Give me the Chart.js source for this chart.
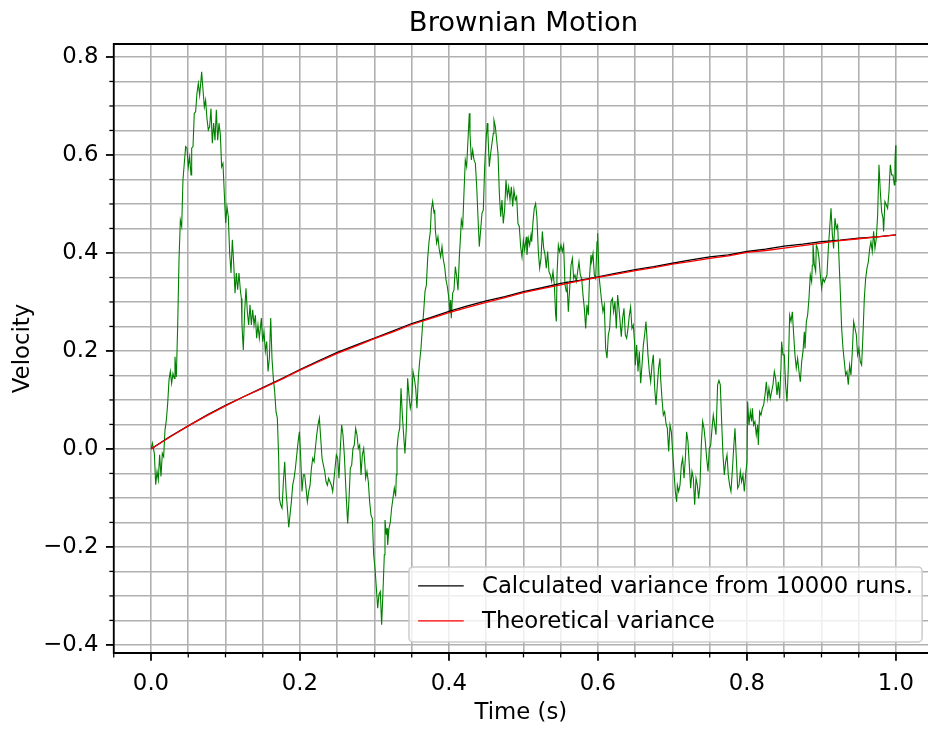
<!DOCTYPE html>
<html>
<head>
<meta charset="utf-8">
<title>Brownian Motion</title>
<script src="https://cdn.jsdelivr.net/npm/chart.js@4.4.1/dist/chart.umd.min.js"></script>
<style>
  html, body { margin: 0; padding: 0; background: #fff; overflow: hidden; }
  #wrap { width: 928px; height: 729px; }
</style>
</head>
<body>
<div id="wrap"><canvas id="chart" width="928" height="729"></canvas></div>
<script>
const FONT = "'DejaVu Sans', 'Liberation Sans', sans-serif";
const TICK_SIZE = 22.8;
const TITLE_SIZE = 27.4;

// One simulated velocity path (time in s)
const pathTime = [
  0.0000,0.0009,0.0018,0.0045,0.0063,0.0081,0.0098,0.0116,0.0134,0.0152,
  0.0170,0.0188,0.0206,0.0224,0.0242,0.0259,0.0277,0.0295,0.0313,0.0322,
  0.0340,0.0358,0.0376,0.0394,0.0412,0.0429,0.0447,0.0465,0.0483,0.0501,
  0.0519,0.0537,0.0546,0.0564,0.0581,0.0599,0.0617,0.0635,0.0653,0.0671,
  0.0680,0.0698,0.0716,0.0733,0.0751,0.0769,0.0787,0.0805,0.0823,0.0841,
  0.0859,0.0877,0.0895,0.0913,0.0931,0.0948,0.0966,0.0984,0.1002,0.1020,
  0.1038,0.1056,0.1074,0.1092,0.1110,0.1128,0.1145,0.1163,0.1181,0.1199,
  0.1213,0.1221,0.1239,0.1257,0.1275,0.1293,0.1311,0.1329,0.1347,0.1365,
  0.1383,0.1401,0.1418,0.1436,0.1454,0.1472,0.1481,0.1499,0.1517,0.1535,
  0.1553,0.1571,0.1589,0.1607,0.1624,0.1642,0.1660,0.1678,0.1696,0.1714,
  0.1723,0.1741,0.1759,0.1777,0.1795,0.1813,0.1831,0.1849,0.1866,0.1884,
  0.1902,0.1920,0.1938,0.1956,0.1974,0.1992,0.2010,0.2027,0.2045,0.2063,
  0.2081,0.2099,0.2117,0.2135,0.2153,0.2171,0.2189,0.2206,0.2224,0.2242,
  0.2260,0.2278,0.2296,0.2314,0.2332,0.2350,0.2368,0.2385,0.2403,0.2421,
  0.2439,0.2457,
  0.2488,0.2506,0.2523,0.2541,0.2559,0.2577,0.2595,0.2622,0.2640,0.2658,
  0.2676,0.2694,0.2711,0.2729,0.2747,0.2765,0.2783,0.2801,0.2819,0.2837,
  0.2855,0.2872,0.2881,0.2899,0.2917,0.2935,0.2953,0.2971,0.2989,0.3007,
  0.3025,0.3043,0.3060,0.3078,0.3096,0.3114,0.3132,0.3141,0.3159,0.3168,
  0.3177,0.3195,0.3213,0.3230,0.3248,0.3266,0.3284,0.3293,0.3302,0.3320,
  0.3338,0.3356,0.3374,0.3391,0.3409,0.3427,0.3445,0.3463,0.3481,0.3499,
  0.3517,0.3535,0.3553,0.3570,0.3588,0.3606,0.3624,0.3642,0.3660,0.3678,
  0.3696,0.3714,0.3732,0.3749,
  0.3763,0.3781,0.3799,0.3808,0.3817,0.3834,0.3852,0.3870,0.3888,0.3906,
  0.3924,0.3942,0.3960,0.3978,0.3996,0.4013,0.4022,0.4031,0.4049,0.4067,
  0.4085,0.4103,0.4121,0.4139,0.4157,0.4166,0.4184,0.4201,0.4219,0.4237,
  0.4255,0.4273,0.4282,0.4300,0.4318,0.4336,0.4354,0.4372,0.4389,0.4407,
  0.4425,0.4443,0.4461,0.4479,0.4497,0.4515,0.4523,0.4541,0.4559,0.4577,
  0.4595,0.4604,0.4622,0.4640,0.4658,0.4676,0.4694,0.4711,0.4729,0.4747,
  0.4765,0.4783,0.4801,0.4819,0.4837,0.4855,0.4872,0.4890,0.4908,0.4926,
  0.4944,0.4962,0.4980,0.4998,0.5016,
  0.5038,0.5047,0.5065,0.5083,0.5101,0.5110,0.5128,0.5145,0.5163,0.5181,
  0.5199,0.5217,0.5235,0.5253,0.5271,0.5289,0.5306,0.5324,0.5342,0.5360,
  0.5378,0.5396,0.5414,0.5432,0.5441,0.5450,0.5468,0.5485,0.5503,0.5521,
  0.5539,0.5557,0.5575,0.5584,0.5602,0.5620,0.5638,0.5656,0.5674,0.5691,
  0.5709,0.5727,0.5745,0.5763,0.5781,0.5799,0.5817,0.5835,0.5852,0.5870,
  0.5888,0.5906,0.5915,0.5933,0.5951,0.5969,0.5987,0.5996,0.6013,0.6031,
  0.6049,0.6067,0.6085,0.6103,0.6121,0.6139,0.6157,0.6175,0.6193,0.6210,
  0.6228,0.6246,0.6264,0.6282,
  0.6313,0.6331,0.6349,0.6367,0.6385,0.6403,0.6421,0.6438,0.6456,0.6474,
  0.6492,0.6501,0.6519,0.6537,0.6555,0.6573,0.6591,0.6609,0.6626,0.6644,
  0.6653,0.6671,0.6689,0.6707,0.6725,0.6743,0.6761,0.6779,0.6797,0.6814,
  0.6832,0.6841,0.6859,0.6877,0.6895,0.6913,0.6931,0.6949,0.6967,0.6985,
  0.7002,0.7020,0.7038,0.7056,0.7065,0.7083,0.7101,0.7119,0.7137,0.7155,
  0.7173,0.7190,0.7208,0.7226,0.7244,0.7262,0.7280,0.7298,0.7316,0.7334,
  0.7351,0.7369,0.7387,0.7405,0.7423,0.7441,0.7459,0.7477,0.7495,0.7513,
  0.7531,0.7548,0.7566,0.7584,
  0.7606,0.7624,0.7642,0.7660,0.7678,0.7696,0.7714,0.7732,0.7749,0.7767,
  0.7785,0.7803,0.7821,0.7839,0.7857,0.7875,0.7893,0.7911,0.7928,0.7946,
  0.7964,0.7982,0.8000,0.8009,0.8027,0.8045,0.8063,0.8072,0.8089,0.8107,
  0.8125,0.8143,0.8152,0.8170,0.8188,0.8206,0.8224,0.8242,0.8260,0.8278,
  0.8295,0.8313,0.8331,0.8349,0.8367,0.8385,0.8403,0.8421,0.8439,0.8456,
  0.8465,0.8483,0.8501,0.8519,0.8537,0.8555,0.8573,0.8591,0.8609,0.8627,
  0.8644,0.8662,0.8680,0.8698,0.8716,0.8734,0.8752,0.8770,0.8779,0.8797,
  0.8814,0.8832,0.8850,0.8868,0.8877,0.8886,
  0.8904,0.8922,0.8931,0.8949,0.8967,0.8985,0.9002,0.9020,0.9038,0.9056,
  0.9074,0.9092,0.9110,0.9128,0.9146,0.9163,0.9181,0.9199,0.9217,0.9235,
  0.9253,0.9271,0.9289,0.9307,0.9324,0.9342,0.9360,0.9378,0.9396,0.9414,
  0.9432,0.9450,0.9468,0.9485,0.9503,0.9521,0.9539,0.9557,0.9575,0.9593,
  0.9611,0.9629,0.9647,0.9664,0.9682,0.9700,0.9718,0.9736,0.9754,0.9772,
  0.9790,0.9808,0.9826,0.9834,0.9852,0.9870,0.9888,0.9906,0.9924,0.9942,
  0.9960,0.9978,0.9987,0.9996,1.0000
];

const pathVelocity = [
  0.000,0.005,0.012,-0.009,-0.073,-0.046,-0.063,-0.012,-0.056,-0.009,
  -0.016,0.039,0.059,0.093,0.141,0.158,0.134,0.154,0.144,0.188,
  0.147,0.250,0.386,0.467,0.454,0.549,0.583,0.617,0.614,0.576,
  0.596,0.559,0.614,0.617,0.685,0.688,0.726,0.746,0.722,0.753,
  0.770,0.733,0.698,0.712,0.675,0.651,0.658,0.695,0.624,0.665,
  0.630,0.692,0.630,0.665,0.641,0.576,0.583,0.522,0.461,0.494,
  0.474,0.399,0.359,0.427,0.379,0.318,0.359,0.325,0.359,0.325,
  0.307,0.253,0.202,0.280,0.328,0.280,0.253,0.294,0.253,0.284,
  0.253,0.273,0.226,0.253,0.226,0.253,0.267,0.219,0.239,0.199,
  0.219,0.158,0.185,0.267,0.185,0.144,0.117,0.076,0.063,-0.019,
  -0.101,-0.114,-0.121,-0.067,-0.026,-0.087,-0.121,-0.160,-0.135,-0.108,
  -0.074,-0.060,-0.040,-0.013,0.014,0.035,-0.019,-0.087,-0.053,-0.053,
  -0.080,-0.108,-0.087,-0.074,-0.040,-0.019,-0.026,0.001,0.028,0.049,
  0.063,0.022,-0.019,-0.033,-0.046,-0.067,-0.074,-0.060,-0.067,-0.074,
  -0.087,-0.060,
  -0.012,-0.019,-0.060,0.001,0.049,0.029,-0.012,-0.101,-0.152,-0.101,
  -0.039,-0.033,0.001,0.008,0.042,0.029,0.001,0.008,-0.053,-0.012,
  0.001,-0.033,-0.060,-0.046,-0.067,-0.108,-0.135,-0.142,-0.216,-0.244,
  -0.284,-0.325,-0.297,-0.291,-0.359,-0.291,-0.216,-0.145,-0.175,-0.162,
  -0.196,-0.162,-0.149,-0.121,-0.101,-0.080,-0.097,-0.053,0.001,0.029,
  0.042,0.124,0.069,0.029,-0.009,0.042,0.144,0.110,0.083,0.097,
  0.158,0.144,0.124,0.083,0.144,0.178,0.205,0.246,0.280,0.321,
  0.334,0.389,0.423,0.443,
  0.488,0.505,0.481,0.488,0.447,0.420,0.433,0.406,0.392,0.413,
  0.386,0.372,0.345,0.331,0.311,0.277,0.304,0.267,0.318,0.324,
  0.372,0.352,0.324,0.392,0.440,0.467,0.454,0.522,0.590,0.576,
  0.631,0.685,0.644,0.590,0.610,0.590,0.583,0.535,0.474,0.413,
  0.447,0.481,0.488,0.576,0.631,0.665,0.644,0.576,0.603,0.624,
  0.644,0.671,0.658,0.631,0.603,0.522,0.474,0.508,0.460,0.488,
  0.549,0.515,0.535,0.508,0.535,0.495,0.529,0.508,0.515,0.460,
  0.454,0.413,0.392,0.426,0.406,
  0.433,0.396,0.430,0.416,0.437,0.423,0.464,0.491,0.501,0.471,
  0.403,0.369,0.389,0.444,0.410,0.396,0.369,0.403,0.362,0.355,
  0.342,0.362,0.335,0.273,0.260,0.355,0.416,0.403,0.416,0.403,
  0.416,0.335,0.321,0.342,0.280,0.328,0.375,0.389,0.348,0.355,
  0.342,0.362,0.382,0.355,0.348,0.314,0.287,0.246,0.294,0.273,
  0.355,0.396,0.382,0.399,0.355,0.348,0.423,0.440,0.355,0.328,
  0.301,0.280,0.294,0.205,0.185,0.233,0.246,0.301,0.307,0.280,
  0.301,0.246,0.314,0.287,
  0.229,0.267,0.287,0.233,0.226,0.246,0.273,0.290,0.246,0.253,
  0.216,0.171,0.212,0.158,0.199,0.134,0.171,0.212,0.233,0.260,
  0.239,0.192,0.158,0.137,0.171,0.192,0.124,0.090,0.131,0.165,
  0.185,0.144,0.103,0.069,0.076,0.052,0.042,-0.005,0.049,0.035,
  -0.005,-0.046,-0.087,-0.108,-0.074,-0.087,-0.074,-0.033,-0.019,-0.060,
  -0.019,0.035,0.015,-0.033,-0.080,-0.046,-0.060,-0.114,-0.060,-0.074,
  -0.101,-0.074,0.008,0.056,0.042,0.015,-0.019,-0.046,0.001,0.008,
  0.042,0.069,0.049,0.029,
  0.131,0.140,0.131,0.056,-0.012,-0.053,-0.026,-0.012,-0.053,-0.074,
  -0.087,-0.046,0.001,0.042,-0.019,-0.080,-0.074,-0.046,-0.067,-0.053,
  -0.087,-0.053,-0.026,0.097,0.049,0.076,0.056,0.083,0.049,0.056,
  0.029,0.049,0.008,0.076,0.069,0.083,0.090,0.110,0.137,0.103,
  0.124,0.103,0.117,0.131,0.158,0.144,0.110,0.137,0.103,0.165,
  0.219,0.192,0.192,0.131,0.097,0.165,0.273,0.260,0.280,0.233,
  0.192,0.165,0.185,0.158,0.137,0.178,0.199,0.239,0.205,0.260,
  0.273,0.307,0.355,0.341,0.375,0.420,
  0.376,0.362,0.416,0.409,0.389,0.355,0.328,0.348,0.341,0.348,
  0.355,0.409,0.450,0.491,0.437,0.409,0.471,0.450,0.457,0.389,
  0.321,0.246,0.205,0.178,0.151,0.158,0.131,0.171,0.151,0.199,
  0.260,0.246,0.233,0.192,0.205,0.178,0.171,0.233,0.307,0.348,
  0.369,0.382,0.409,0.423,0.403,0.444,0.409,0.430,0.477,0.580,
  0.525,0.484,0.471,0.444,0.505,0.498,0.491,0.525,0.580,0.559,
  0.559,0.539,0.586,0.620,0.545
];

// Variance curves
const varianceTime = [
  0.000,0.025,0.050,0.075,0.100,0.125,0.150,0.175,0.200,0.225,
  0.250,0.275,0.300,0.325,0.350,0.375,0.400,0.425,0.450,0.475,
  0.500,0.525,0.550,0.575,0.600,0.625,0.650,0.675,0.700,0.725,
  0.750,0.775,0.800,0.825,0.850,0.875,0.900,0.925,0.950,0.975,1.000
];
const calculatedVariance = [
  0.000,0.025,0.047,0.069,0.089,0.107,0.125,0.143,0.162,0.180,
  0.197,0.212,0.226,0.241,0.256,0.268,0.281,0.292,0.302,0.311,
  0.321,0.329,0.338,0.344,0.351,0.359,0.366,0.372,0.379,0.386,
  0.392,0.396,0.403,0.408,0.414,0.418,0.423,0.426,0.430,0.433,0.437
];
const theoreticalVariance = [
  0.000,0.024,0.047,0.068,0.088,0.107,0.124,0.142,0.161,0.178,
  0.195,0.210,0.225,0.239,0.254,0.266,0.278,0.289,0.299,0.309,
  0.319,0.327,0.335,0.343,0.350,0.357,0.364,0.370,0.377,0.383,
  0.389,0.394,0.401,0.405,0.410,0.415,0.420,0.425,0.429,0.433,0.437
];

// Axis ranges and labelled (major) ticks; minor ticks every 0.05.
// The x axis is cut at the right edge of the canvas, a little before 1.05.
const xRange = [-0.05, 1.043];
const yRange = [-0.4165, 0.8265];
const xMajorTicks = [0.0, 0.2, 0.4, 0.6, 0.8, 1.0];
const yMajorTicks = [-0.4, -0.2, 0.0, 0.2, 0.4, 0.6, 0.8];
const MINOR_STEP = 0.05;

function isMajor(v, majors) {
  return majors.some(m => Math.abs(m - v) < 1e-6);
}

function fmt(v) {
  if (Math.abs(v) < 1e-9) return '0.0';
  return v < 0 ? '\u2212' + (-v).toFixed(1) : v.toFixed(1);
}

function stepTicks(scale) {
  const out = [];
  const k0 = Math.ceil(scale.min / MINOR_STEP - 1e-9);
  for (let k = k0; k * MINOR_STEP <= scale.max + 1e-9; k++) {
    out.push({ value: +(k * MINOR_STEP).toFixed(2) });
  }
  scale.ticks = out;
}

const toPoints = (xs, ys) => xs.map((x, i) => ({ x, y: ys[i] }));

// title, tick marks, spines and the boxed legend, drawn matplotlib-style
const framePlugin = {
  id: 'frame',
  afterDatasetsDraw(chart) {
    const { ctx, chartArea: a, scales } = chart;
    ctx.save();
    ctx.strokeStyle = '#000';

    scales.x.ticks.forEach(t => {
      const px = scales.x.getPixelForValue(t.value);
      if (px < a.left - 0.5 || px > a.right + 0.5) return;
      const major = isMajor(t.value, xMajorTicks);
      ctx.lineWidth = major ? 1.8 : 1.3;
      ctx.beginPath();
      ctx.moveTo(px, a.bottom);
      ctx.lineTo(px, a.bottom + (major ? 7.8 : 4.4));
      ctx.stroke();
    });
    scales.y.ticks.forEach(t => {
      const py = scales.y.getPixelForValue(t.value);
      const major = isMajor(t.value, yMajorTicks);
      ctx.lineWidth = major ? 1.8 : 1.3;
      ctx.beginPath();
      ctx.moveTo(a.left, py);
      ctx.lineTo(a.left - (major ? 7.8 : 4.4), py);
      ctx.stroke();
    });

    // left, top and bottom spines (the right one lies past the canvas edge)
    ctx.lineWidth = 1.8;
    ctx.beginPath();
    ctx.moveTo(a.right + 2, a.top);
    ctx.lineTo(a.left, a.top);
    ctx.lineTo(a.left, a.bottom);
    ctx.lineTo(a.right + 2, a.bottom);
    ctx.stroke();

    // title
    ctx.fillStyle = '#000';
    ctx.font = `${TITLE_SIZE}px ${FONT}`;
    ctx.textAlign = 'center';
    ctx.textBaseline = 'alphabetic';
    ctx.fillText('Brownian Motion', scales.x.getPixelForValue(0.5), 30.5);

    // legend, tucked into the lower right corner of the axes box
    const fs = TICK_SIZE;
    const entries = chart.data.datasets.filter(d => d.inLegend);
    ctx.font = `${fs}px ${FONT}`;
    const textW = Math.max(...entries.map(e => ctx.measureText(e.label).width));
    const pad = 0.4 * fs, handle = 2 * fs, gap = 0.8 * fs, rowH = 35;
    const w = pad + handle + gap + textW + pad;
    const h = 75;
    const right = scales.x.getPixelForValue(1.05) - 0.5 * 22.2;
    const bottom = a.bottom - 0.5 * 22.2;
    const left = right - w, top = bottom - h;
    ctx.beginPath();
    ctx.roundRect(left, top, w, h, 4);
    ctx.fillStyle = 'rgba(255,255,255,0.8)';
    ctx.fill();
    ctx.strokeStyle = '#cccccc';
    ctx.lineWidth = 1.5;
    ctx.stroke();
    ctx.textAlign = 'left';
    ctx.textBaseline = 'middle';
    entries.forEach((e, i) => {
      const cy = top + 19 + i * rowH;
      ctx.strokeStyle = e.borderColor;
      ctx.lineWidth = e.borderWidth;
      ctx.beginPath();
      ctx.moveTo(left + pad, cy);
      ctx.lineTo(left + pad + handle, cy);
      ctx.stroke();
      ctx.fillStyle = '#000';
      ctx.fillText(e.label, left + pad + handle + gap, cy + 1);
    });
    ctx.restore();
  }
};

const tickFont = { family: FONT, size: TICK_SIZE };

new Chart(document.getElementById('chart'), {
  type: 'line',
  data: {
    datasets: [
      {
        label: 'Velocity path',
        data: toPoints(pathTime, pathVelocity),
        borderColor: '#008000',
        borderWidth: 1.1,
        order: 3
      },
      {
        label: 'Calculated variance from 10000 runs.',
        data: toPoints(varianceTime, calculatedVariance),
        borderColor: '#000000',
        borderWidth: 1.3,
        order: 2,
        inLegend: true
      },
      {
        label: 'Theoretical variance',
        data: toPoints(varianceTime, theoreticalVariance),
        borderColor: '#ff0000',
        borderWidth: 1.3,
        order: 1,
        inLegend: true
      }
    ]
  },
  options: {
    responsive: false,
    animation: false,
    layout: { padding: { top: 44, right: 0, left: 0, bottom: 0 } },
    elements: { point: { radius: 0 }, line: { tension: 0 } },
    plugins: {
      legend: { display: false },
      tooltip: { enabled: false },
      title: { display: false }
    },
    scales: {
      x: {
        type: 'linear',
        min: xRange[0],
        max: xRange[1],
        afterBuildTicks: stepTicks,
        afterFit: s => { s.height = 76; s.paddingLeft = 0; s.paddingRight = 0; },
        grid: { color: '#b0b0b0', lineWidth: 1.6, drawTicks: false },
        border: { display: false },
        ticks: {
          autoSkip: false,
          maxRotation: 0,
          padding: 17,
          color: '#000',
          font: tickFont,
          callback: v => isMajor(v, xMajorTicks) ? fmt(v) : ''
        },
        title: {
          display: true,
          text: 'Time (s)',
          color: '#000',
          font: tickFont,
          padding: { top: 0, bottom: 2.7 }
        }
      },
      y: {
        type: 'linear',
        min: yRange[0],
        max: yRange[1],
        afterBuildTicks: stepTicks,
        afterFit: s => { s.width = 113.75; },
        grid: { color: '#b0b0b0', lineWidth: 1.6, drawTicks: false },
        border: { display: false },
        ticks: {
          autoSkip: false,
          padding: 15.3,
          color: '#000',
          font: tickFont,
          callback: v => isMajor(v, yMajorTicks) ? fmt(v) : ''
        },
        title: {
          display: true,
          text: 'Velocity',
          color: '#000',
          font: tickFont,
          padding: { top: 9, bottom: 0 }
        }
      }
    }
  },
  plugins: [framePlugin]
});
</script>
</body>
</html>
